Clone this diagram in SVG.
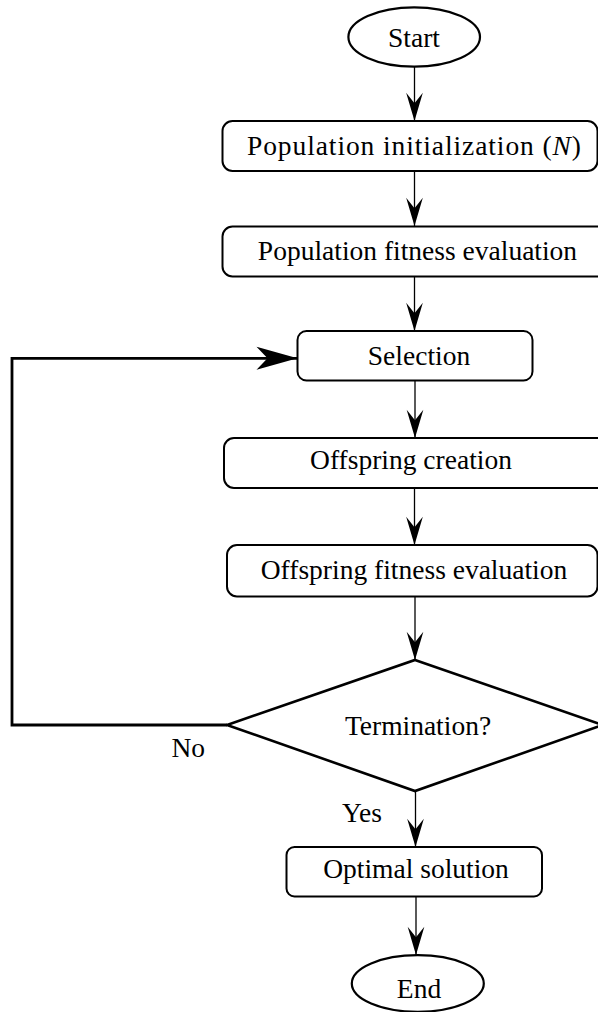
<svg xmlns="http://www.w3.org/2000/svg" width="598" height="1012" viewBox="0 0 598 1012">
<style>
  .box { fill: #fff; stroke: #000; stroke-width: 2; }
  .term { fill: #fff; stroke: #000; stroke-width: 2.2; }
  .dec { fill: #fff; stroke: #000; stroke-width: 2.6; }
  .lbl { font-family: "Liberation Serif", "Times New Roman", serif; font-size: 27.5px; fill: #000; text-anchor: middle; }
  .side { font-family: "Liberation Serif", "Times New Roman", serif; font-size: 27.5px; fill: #000; }
  .flow { fill: none; stroke: #000; stroke-width: 1.3; }
  .loop { fill: none; stroke: #000; stroke-width: 2.8; }
</style>
<defs>
  <marker id="ah" markerUnits="userSpaceOnUse" markerWidth="30" markerHeight="20" viewBox="-26 -9 27 18" refX="0" refY="0" orient="auto">
    <path d="M0,0 L-25.5,-7.5 L-16,0 L-25.5,7.5 Z" fill="#000"/>
  </marker>
  <marker id="ahBig" markerUnits="userSpaceOnUse" markerWidth="44" markerHeight="26" viewBox="-42 -13 43 26" refX="0" refY="0" orient="auto">
    <path d="M0,0 L-41,-11.5 L-30,0 L-41,11.5 Z" fill="#000"/>
  </marker>
</defs>

<g id="connectors">
  <line class="flow" x1="414.5" y1="67" x2="414.5" y2="121" marker-end="url(#ah)"/>
  <line class="flow" x1="414.5" y1="171" x2="414.5" y2="226" marker-end="url(#ah)"/>
  <line class="flow" x1="414.5" y1="277" x2="414.5" y2="331" marker-end="url(#ah)"/>
  <line class="flow" x1="415" y1="381" x2="415" y2="438" marker-end="url(#ah)"/>
  <line class="flow" x1="414.5" y1="488" x2="414.5" y2="545" marker-end="url(#ah)"/>
  <line class="flow" x1="415" y1="597" x2="415" y2="660" marker-end="url(#ah)"/>
  <line class="flow" x1="415.5" y1="791" x2="415.5" y2="847" marker-end="url(#ah)"/>
  <line class="flow" x1="416" y1="897" x2="416" y2="955" marker-end="url(#ah)"/>
  <polyline class="loop" points="227,725 12,725 12,358.3 297.5,358.3" marker-end="url(#ahBig)"/>
</g>

<g id="start">
  <ellipse class="term" cx="414.2" cy="37" rx="65.8" ry="29.7"/>
  <text class="lbl" x="414" y="47">Start</text>
</g>

<g id="pop-init">
  <rect class="box" x="222.5" y="121" width="375" height="50" rx="10"/>
  <text class="lbl" x="414" y="155" textLength="334" lengthAdjust="spacing">Population initialization (<tspan font-style="italic">N</tspan>)</text>
</g>

<g id="pop-fitness">
  <rect class="box" x="222.5" y="226.5" width="385" height="50" rx="10"/>
  <text class="lbl" x="417.5" y="260">Population fitness evaluation</text>
</g>

<g id="selection">
  <rect class="box" x="297.5" y="331" width="235" height="49.5" rx="9"/>
  <text class="lbl" x="419" y="365">Selection</text>
</g>

<g id="offspring-creation">
  <rect class="box" x="224" y="438" width="385" height="50" rx="10"/>
  <text class="lbl" x="411" y="469">Offspring creation</text>
</g>

<g id="offspring-fitness">
  <rect class="box" x="227" y="545" width="370.5" height="51.5" rx="10"/>
  <text class="lbl" x="414" y="579">Offspring fitness evaluation</text>
</g>

<g id="termination">
  <polygon class="dec" points="415,660 602.5,725 415,791 227,725"/>
  <text class="lbl" x="418" y="735">Termination?</text>
</g>

<g id="labels">
  <text class="side" x="171.5" y="756.7">No</text>
  <text class="side" x="342" y="821.7">Yes</text>
</g>

<g id="optimal">
  <rect class="box" x="286.5" y="847" width="255.5" height="49.5" rx="8"/>
  <text class="lbl" x="416" y="878">Optimal solution</text>
</g>

<g id="end">
  <ellipse class="term" cx="417.8" cy="983.5" rx="66" ry="28.3"/>
  <text class="lbl" x="419" y="998.3">End</text>
</g>
</svg>
